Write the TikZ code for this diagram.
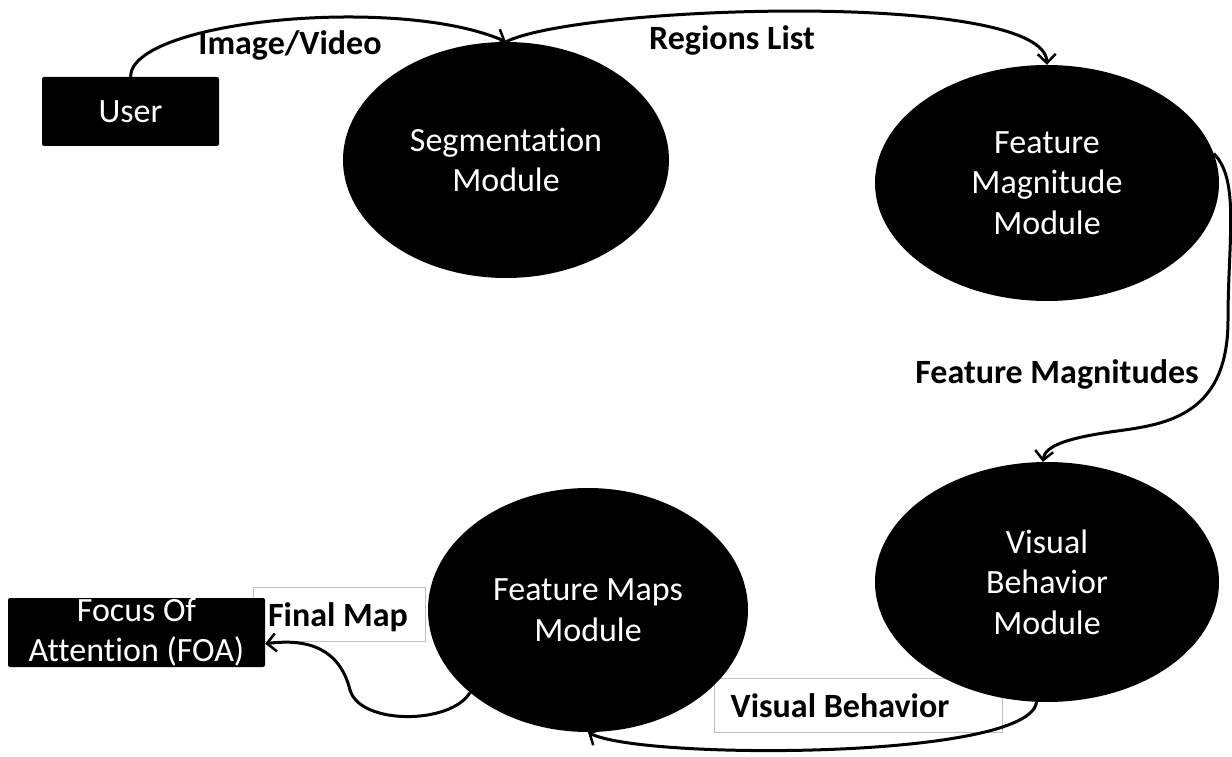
\documentclass[tikz,border=0pt]{standalone}
\usepackage{fontspec}
\setmainfont{Carlito}[Ligatures=NoCommon]
\usetikzlibrary{shapes.geometric,arrows.meta}
\tikzset{
  modul/.style={ellipse,fill=black,text=white,inner sep=0pt,align=center,font=\fontsize{34}{40.5}\selectfont},
  actor/.style={rectangle,fill=black,text=white,rounded corners=2pt,inner sep=0pt,align=center,font=\fontsize{34}{40}\selectfont},
  flow/.style={line width=3pt,-{Straight Barb[length=9pt,width=18pt,line width=2.5pt]}},
  flowlabel/.style={font=\bfseries\fontsize{34}{36}\selectfont},
  labelbox/.style={draw=black!25,line width=1pt,inner sep=0pt}
}
\begin{document}
\begin{tikzpicture}[x=1pt,y=-1pt]
\useasboundingbox (0,0) rectangle (1232,757);
\node[labelbox,minimum width=172pt,minimum height=54pt] (finbox) at (339,614) {};
\node[labelbox,minimum width=288pt,minimum height=54pt] (visbox) at (858,705) {};
\node[actor,minimum width=177pt,minimum height=69pt] (user) at (130.5,111.5) {User};
\node[actor,minimum width=257pt,minimum height=69pt] (foa) at (136.5,632.5) {Focus Of\\Attention (FOA)};
\node[modul,minimum width=326pt,minimum height=236pt] (seg) at (506,160) {Segmentation\\Module};
\node[modul,minimum width=344pt,minimum height=236pt] (fmag) at (1047,183) {Feature\\Magnitude\\Module};
\node[modul,minimum width=344pt,minimum height=240pt] (vis) at (1047,582) {Visual\\Behavior\\Module};
\node[modul,minimum width=320pt,minimum height=244pt] (fmaps) at (588,610) {Feature Maps\\Module};
\node[flowlabel] (imglbl) at (290,45) {Image/Video};
\node[flowlabel] (reglbl) at (732,40) {Regions List};
\node[flowlabel] (maglbl) at (1057,374) {Feature Magnitudes};
\node[flowlabel] (finlbl) at (338,617) {Final Map};
\node[flowlabel] (vislbl) at (840,706) {Visual Behavior};
\draw[flow] (user.north) .. controls (131,20) and (400,-5) .. (seg.north);
\draw[flow] (seg.north) .. controls (580,5) and (1045,-10) .. (fmag.north);
\draw[flow] (fmag.10) .. controls (1240,180) and (1228,240) .. (1228,320) .. controls (1228,420) and (1160,425) .. (1110,432) .. controls (1070,438) and (1045,445) .. (vis.92);
\draw[flow] (vis.265) .. controls (1030,760) and (640,760) .. (fmaps.south);
\draw[flow] (fmaps.215) .. controls (450,725) and (360,725) .. (350,690) .. controls (340,650) and (310,638) .. (foa.-5);
\end{tikzpicture}
\end{document}
